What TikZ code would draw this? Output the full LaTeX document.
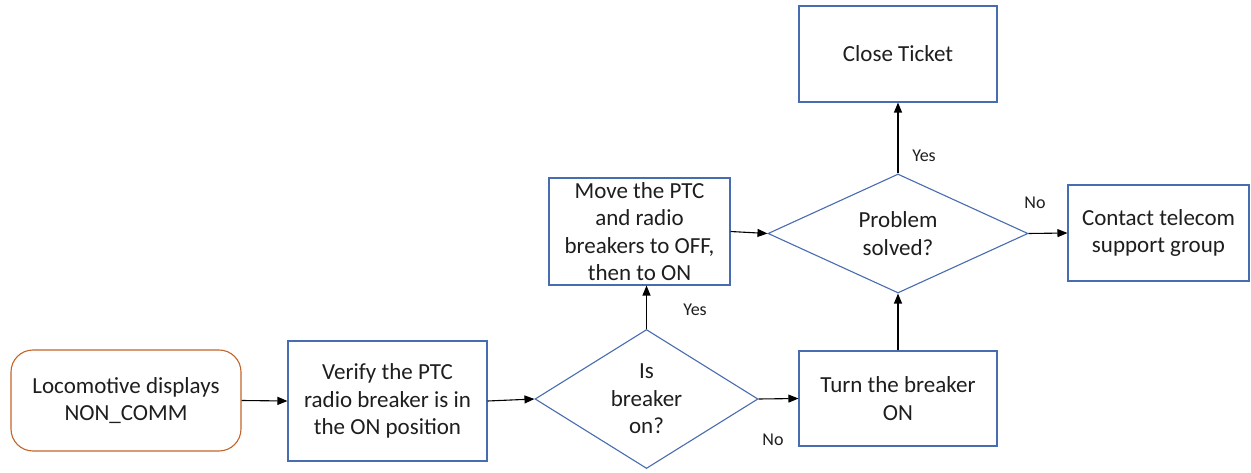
\documentclass[tikz,border=0pt]{standalone}
\usepackage{fontspec}
\setmainfont{Carlito}
\usetikzlibrary{shapes.geometric,arrows.meta}
\definecolor{boxblue}{RGB}{72,108,176}
\definecolor{startorange}{RGB}{197,100,40}
\definecolor{inktext}{RGB}{30,30,30}
\begin{document}
\begin{tikzpicture}[x=1pt,y=-1pt,
  every node/.style={font=\fontsize{23}{27.5}\selectfont, text=inktext, align=center, inner sep=0pt},
  procbox/.style={draw=boxblue, line width=1.1pt, rectangle},
  startbox/.style={draw=startorange, line width=1.1pt, rectangle, rounded corners=22pt},
  decision/.style={draw=boxblue, line width=1.1pt, diamond},
  flow/.style={draw=black, line width=1.1pt, -{Triangle[length=10pt,width=8pt]}},
  lbl/.style={font=\fontsize{18}{22}\selectfont}]
\useasboundingbox (0,0) rectangle (1251,473);
\fill[white] (0,0) rectangle (1251,473);

% process steps
\node[startbox, minimum width=230pt, minimum height=101pt] (start) at (126,400.5)
  {Locomotive displays\\NON\_COMM};
\node[procbox, minimum width=199pt, minimum height=120pt] (verify) at (387.5,401)
  {Verify the PTC\\radio breaker is in\\the ON position};
\node[decision, minimum width=223pt, minimum height=139pt, shape aspect=1.6] (isOn) at (646.5,399)
  {Is\\breaker\\on?};
\node[procbox, minimum width=181pt, minimum height=107pt] (move) at (639.5,231.5)
  {Move the PTC\\and radio\\breakers to OFF,\\then to ON};
\node[procbox, minimum width=198pt, minimum height=95pt] (turn) at (898,398.5)
  {Turn the breaker\\ON};
\node[decision, minimum width=260pt, minimum height=119pt, shape aspect=2.2] (solved) at (898,233.5)
  {Problem\\solved?};
\node[procbox, minimum width=198pt, minimum height=96pt] (close) at (898,54)
  {Close Ticket};
\node[procbox, minimum width=181pt, minimum height=96pt] (contact) at (1158.5,233)
  {Contact telecom\\support group};

% connectors
\draw[flow] (start.east) -- (verify.west);
\draw[flow] (verify.east) -- (isOn.west);
\draw[flow] (isOn.east) -- (turn.west);
\draw[flow] (isOn.north) -- (isOn.north |- move.south);
\draw[flow] (move.east) -- (solved.west);
\draw[flow] (turn.north) -- (solved.south);
\draw[flow] (solved.north) -- (close.south);
\draw[flow] (solved.east) -- (contact.west);

% branch labels
\node[lbl] (yes1) at (695,310) {Yes};
\node[lbl] (no1) at (773,440) {No};
\node[lbl] (yes2) at (924,156) {Yes};
\node[lbl] (no2) at (1035,203) {No};
\end{tikzpicture}
\end{document}
